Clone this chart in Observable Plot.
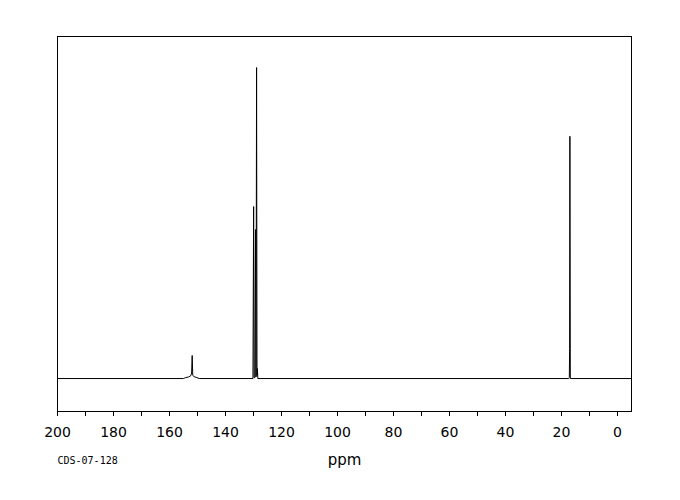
<!DOCTYPE html>
<html><head><meta charset="utf-8">
<script src="https://cdn.jsdelivr.net/npm/d3@7"></script>
<script src="https://cdn.jsdelivr.net/npm/@observablehq/plot@0.6"></script>
<style>body{margin:0;background:#fff}</style>
</head><body><div id="chart"></div>
<script>
const ppm =       [200, 155.0, 154.3, 153.2, 152.4, 152.1, 151.9, 151.7, 151.2, 150.2, 149.4, 130.2, 129.95, 129.8, 129.5, 129.3, 129.1, 128.9, 128.75, 128.6, 128.45, 17.4, 17.2, 17.1, 17.0, 16.85, -5];
const intensity = [0,   0,     0.3,   0.5,   0.9,   1.8,   7.4,   1.0,   0.6,   0.3,   0,     0,     55.3,   0.3,   0.3,   47.9,  0.5,   100,   1.0,    3.2,   0,      0,    0.3,  9.7,  77.9, 0,     0];
const majorTicks = [200, 180, 160, 140, 120, 100, 80, 60, 40, 20, 0];
const minorTicks = [190, 170, 150, 130, 110, 90, 70, 50, 30, 10];
const xLabel = "ppm";
const sampleId = "CDS-07-128";

const spectrum = ppm.map((p, i) => ({ppm: p, intensity: intensity[i]}));

const chart = Plot.plot({
  width: 680, height: 500,
  marginLeft: 57, marginRight: 49, marginTop: 36, marginBottom: 89,
  x: {domain: [200, -5], label: null},
  y: {domain: [-10.6, 110], axis: null},
  style: {fontFamily: "DejaVu Sans", background: "white", color: "black"},
  marks: [
    Plot.line(spectrum, {x: "ppm", y: "intensity", stroke: "black", strokeWidth: 1}),
    Plot.frame({stroke: "black", strokeWidth: 1}),
    Plot.axisX(majorTicks, {tickSize: 5, tickPadding: 11, fontSize: 14, label: null}),
    Plot.axisX(minorTicks, {tickSize: 5, tickFormat: () => "", label: null}),
    Plot.text([xLabel], {frameAnchor: "bottom", dy: 53, fontSize: 15}),
    Plot.text([sampleId], {frameAnchor: "bottom-left", textAnchor: "start", dy: 52, fontSize: 10, fontFamily: "DejaVu Sans Mono"})
  ]
});
document.getElementById("chart").appendChild(chart);
</script>
</body></html>
